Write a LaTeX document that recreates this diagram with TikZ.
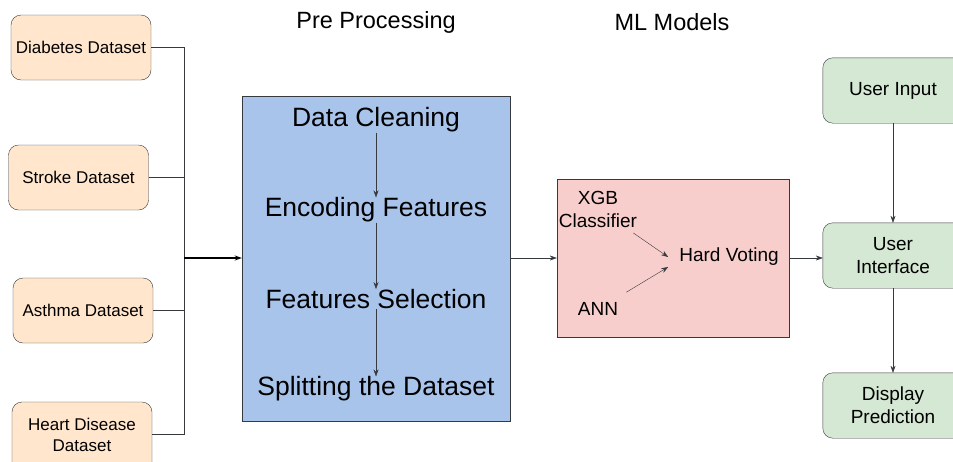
\documentclass[tikz,border=0pt]{standalone}
\usepackage{fontspec}
\setmainfont{Liberation Sans}
\usetikzlibrary{arrows.meta,positioning,calc,backgrounds}
\definecolor{srcfill}{HTML}{FFE6CC}
\definecolor{prefill}{HTML}{A9C4EB}
\definecolor{mlfill}{HTML}{F8CECC}
\definecolor{appfill}{HTML}{D5E8D4}
\definecolor{edge}{HTML}{36393D}

\begin{document}
\begin{tikzpicture}[
  x=1pt,y=-1pt,
  src/.style={draw=edge,fill=srcfill,rounded corners=10pt,minimum width=140pt,minimum height=65pt,align=center,font=\fontsize{17}{21}\selectfont},
  app/.style={minimum width=140pt,minimum height=65pt,align=center,font=\fontsize{19}{23}\selectfont},
  appframe/.style={draw=edge,fill=appfill,rounded corners=10pt},
  stagebox/.style={draw=edge,fill=prefill,minimum width=268pt,minimum height=325pt},
  modelbox/.style={draw=edge,fill=mlfill,minimum width=232pt,minimum height=158pt},
  stage/.style={inner sep=0pt,font=\fontsize{26.5}{30}\selectfont},
  model/.style={inner sep=0pt,align=center,font=\fontsize{19}{23}\selectfont},
  title/.style={font=\fontsize{23.5}{27}\selectfont},
  >={Stealth[length=7pt,width=5pt]}]
\useasboundingbox (0,0) rectangle (953,461);

% section titles
\node[title] (pretitle) at (376,22) {Pre Processing};
\node[title] (mltitle) at (672,22) {ML Models};

% datasets
\node[src] (diab) at (81,47.5) {Diabetes Dataset};
\node[src] (stroke) at (78.5,177.5) {Stroke Dataset};
\node[src] (asthma) at (83,310.5) {Asthma Dataset};
\node[src, minimum height=80pt, text depth=15pt] (heart) at (82,442) {Heart Disease\\Dataset};
\coordinate (bus) at (184,258);

% pre processing
\node[stagebox] (pre) at (376,258.5) {};
\node[stage] (clean) at (376,120) {Data Cleaning};
\node[stage] (enc) at (376,210) {Encoding Features};
\node[stage] (sel) at (376,299) {Features Selection};
\node[stage] (split) at (376,389) {Splitting the Dataset};

% models
\node[modelbox] (ml) at (673,258) {};
\node[model] (xgb) at (598,209.5) {XGB\\Classifier};
\node[model] (ann) at (598,309) {ANN};
\node[model] (vote) at (729,257) {Hard Voting};

% application side, boxes run past the right edge
\node[app] (input) at (893,90.5) {User Input};
\node[app] (ui) at (893,255.5) {User\\Interface};
\node[app] (disp) at (893,405.5) {Display\\Prediction};
\begin{scope}[on background layer]
  \foreach \b in {input,ui,disp}
    \draw[appframe] (\b.north west) rectangle ($(\b.south east)+(40,0)$);
\end{scope}

% collect datasets
\draw[edge] (diab.east) -| (bus);
\draw[edge] (stroke.east) -| (bus);
\draw[edge] (asthma.east) -| (bus);
\draw[edge] (heart.east |- 0,434) -| (bus);
\draw[->,line width=1.6pt] (bus) -- (pre.west |- bus);

\draw[->,edge] (clean) -- (enc);
\draw[->,edge] (enc) -- (sel);
\draw[->,edge] (sel) -- (split);

\draw[->,edge] (pre.east |- bus) -- (ml.west |- bus);
\draw[->,edge] ($(xgb.south east)+(-4,5)$) -- ($(vote.west)+(-11,0)$);
\draw[->,edge] ($(ann.north east)+(8,-10)$) -- ($(vote.west)+(-11,10)$);
\draw[->,edge] (ml.east |- bus) -- (ui.west |- bus);

\draw[->,edge] (input) -- (ui);
\draw[->,edge] (ui) -- (disp);
\end{tikzpicture}
\end{document}
